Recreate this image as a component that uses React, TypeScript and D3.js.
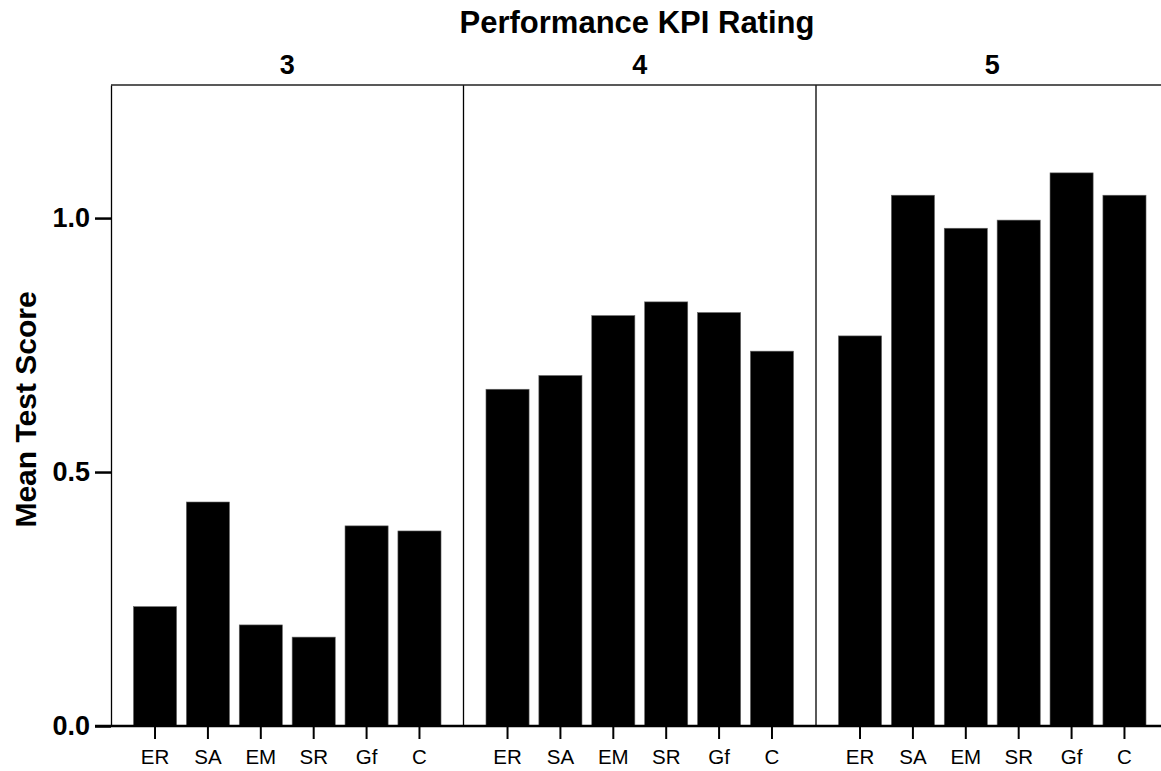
import React, { useEffect, useRef } from "react";
import * as d3 from "d3";

// Panels (KPI rating) and the categories shown inside each one
const ratings = ["3", "4", "5"];
const categories = ["ER", "SA", "EM", "SR", "Gf", "C"];

// Mean test score per category, one list per rating
const rating3 = [0.235, 0.441, 0.199, 0.175, 0.394, 0.384];
const rating4 = [0.663, 0.69, 0.808, 0.835, 0.814, 0.738];
const rating5 = [0.768, 1.045, 0.98, 0.996, 1.089, 1.045];

const yTicks = [0, 0.5, 1.0];

const seriesByRating: Record<string, number[]> = {
  "3": rating3,
  "4": rating4,
  "5": rating5,
};

export default function App() {
  const ref = useRef<SVGSVGElement>(null);

  useEffect(() => {
    drawChart(ref.current);
  }, []);

  return (
    <svg
      ref={ref}
      width={1161}
      height={771}
      style={{ position: "absolute", left: 0, top: 0, background: "#fff" }}
    />
  );
}

/** Draws the faceted bar chart with D3. */
function drawChart(node: SVGSVGElement | null) {
  if (!node) return;
  const svg = d3.select(node);
  svg.selectAll("*").remove();

  const width = 1161;
  const font = "'Liberation Sans', Arial, Helvetica, sans-serif";

  // plot area
  const left = 111,
    top = 85,
    bottom = 726,
    panelWidth = 352.5;

  const panel = d3
    .scaleBand()
    .domain(ratings)
    .range([left, left + panelWidth * ratings.length])
    .padding(0);

  const x = d3
    .scaleBand()
    .domain(categories)
    .range([0, panel.bandwidth()])
    .paddingInner(0.185)
    .paddingOuter(0.425);

  const y = d3.scaleLinear().domain([0, 1.262]).range([bottom, top]);

  const g = svg.append("g");

  // Bars, one group per panel
  ratings.forEach((r) => {
    const values = seriesByRating[r];
    const pg = g.append("g").attr("transform", `translate(${panel(r)},0)`);

    pg.selectAll("rect")
      .data(values)
      .join("rect")
      .attr("x", (d, i) => x(categories[i]) as number)
      .attr("y", (d) => y(d))
      .attr("width", x.bandwidth())
      .attr("height", (d) => bottom - y(d))
      .attr("fill", "#000")
      .attr("stroke", "#666")
      .attr("stroke-width", 0.6);

    // category ticks and labels below the axis
    const axis = pg
      .append("g")
      .attr("transform", `translate(0,${bottom})`)
      .call(d3.axisBottom(x).tickSize(13).tickPadding(10));
    axis.select(".domain").remove();
    axis.selectAll(".tick line").attr("stroke", "#000").attr("stroke-width", 2);
    axis
      .selectAll(".tick text")
      .attr("fill", "#000")
      .attr("font-family", font)
      .attr("font-size", 20.5);

    // panel strip label
    g.append("text")
      .attr("x", (panel(r) as number) + panel.bandwidth() / 2)
      .attr("y", 74)
      .attr("text-anchor", "middle")
      .attr("font-family", font)
      .attr("font-weight", "bold")
      .attr("font-size", 27)
      .text(r);
  });

  // Panel separators
  g.selectAll(".sep")
    .data(ratings.slice(1))
    .join("line")
    .attr("class", "sep")
    .attr("x1", (d) => panel(d) as number)
    .attr("x2", (d) => panel(d) as number)
    .attr("y1", top)
    .attr("y2", bottom)
    .attr("stroke", "#000")
    .attr("stroke-width", 1.3);

  // Top border
  g.append("line")
    .attr("x1", left)
    .attr("x2", width)
    .attr("y1", top)
    .attr("y2", top)
    .attr("stroke", "#222")
    .attr("stroke-width", 1.3);

  // Y axis
  const yAxis = g
    .append("g")
    .attr("transform", `translate(${left},0)`)
    .call(
      d3
        .axisLeft(y)
        .tickValues(yTicks)
        .tickFormat(d3.format(".1f"))
        .tickSize(16)
        .tickSizeOuter(0)
        .tickPadding(5)
    );
  yAxis.select(".domain").attr("stroke", "#000").attr("stroke-width", 1.3);
  yAxis.selectAll(".tick line").attr("stroke", "#000").attr("stroke-width", 2.5);
  yAxis
    .selectAll(".tick text")
    .attr("fill", "#000")
    .attr("font-family", font)
    .attr("font-weight", "bold")
    .attr("font-size", 27);

  // Bottom axis line across all panels
  g.append("line")
    .attr("x1", left - 16)
    .attr("x2", width)
    .attr("y1", bottom)
    .attr("y2", bottom)
    .attr("stroke", "#000")
    .attr("stroke-width", 2.5);

  // Titles
  g.append("text")
    .attr("x", left + (width - left) / 2 + 1)
    .attr("y", 33)
    .attr("text-anchor", "middle")
    .attr("font-family", font)
    .attr("font-weight", "bold")
    .attr("font-size", 31)
    .text("Performance KPI Rating");

  g.append("text")
    .attr("transform", `translate(36,${(top + bottom) / 2 + 4}) rotate(-90)`)
    .attr("text-anchor", "middle")
    .attr("font-family", font)
    .attr("font-weight", "bold")
    .attr("font-size", 30)
    .text("Mean Test Score");
}
